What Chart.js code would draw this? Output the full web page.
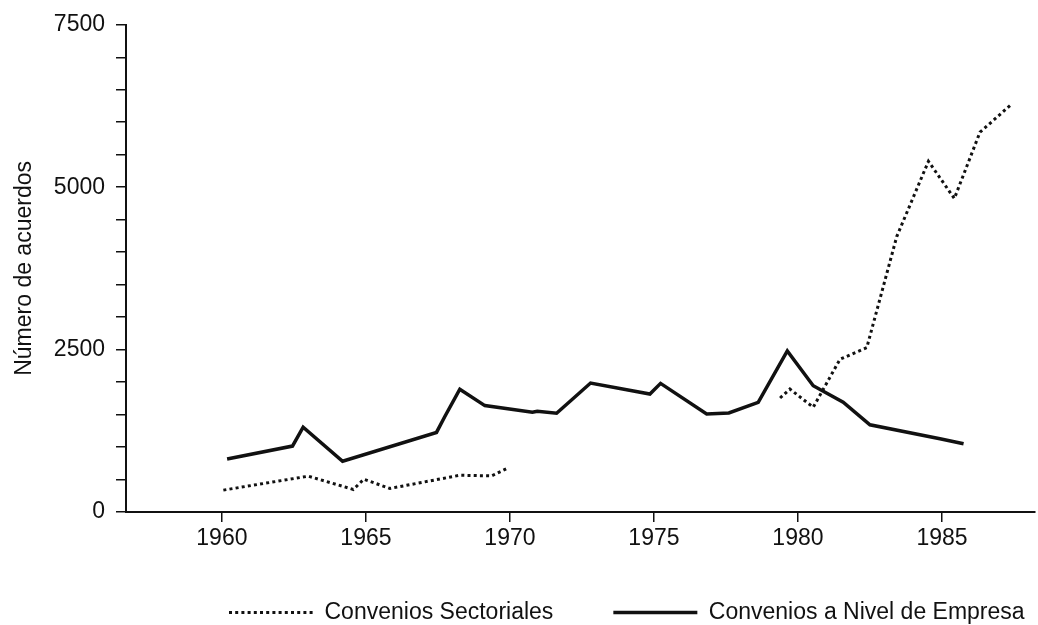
<!DOCTYPE html>
<html>
<head>
<meta charset="utf-8">
<script src="https://cdn.jsdelivr.net/npm/chart.js@4.4.1/dist/chart.umd.min.js"></script>
<style>
    html, body { margin: 0; padding: 0; background: #fff; }
    canvas { display: block; }
</style>
</head>
<body>
<canvas id="chart" width="1038" height="625"></canvas>
<script>
// Convenios Sectoriales (two runs, no data in the 1970s)
const sectYearsA  = [1960.05, 1963.0, 1964.56, 1964.93, 1965.83, 1968.26, 1969.36, 1969.94];
const sectValuesA = [337, 551, 347, 505, 362, 566, 556, 679];
const sectYearsB  = [1979.38, 1979.72, 1980.53, 1981.46, 1982.39, 1983.43, 1984.53, 1985.43, 1986.32, 1987.42];
const sectValuesB = [1755, 1893, 1612, 2352, 2530, 4240, 5399, 4826, 5847, 6280];

// Convenios a Nivel de Empresa
const empYears  = [1960.18, 1962.45, 1962.82, 1964.19, 1967.45, 1967.74, 1968.26, 1969.13, 1970.78, 1970.95,
                   1971.62, 1972.8, 1974.86, 1975.23, 1976.83, 1977.6, 1978.62, 1979.63, 1980.53, 1981.57,
                   1982.5, 1984.93, 1985.75];
const empValues = [816, 1015, 1306, 781, 1225, 1470, 1890, 1638, 1535, 1551,
                   1520, 1985, 1816, 1980, 1510, 1525, 1689, 2480, 1944, 1689,
                   1342, 1128, 1050];

const xTicks  = [1960, 1965, 1970, 1975, 1980, 1985];
const yTicks  = [0, 500, 1000, 1500, 2000, 2500, 3000, 3500, 4000, 4500, 5000, 5500, 6000, 6500, 7000, 7500];
const yLabels = [0, 2500, 5000, 7500];

const zip = (xs, ys) => xs.map((x, i) => ({ x: x, y: ys[i] }));
const sectData = zip(sectYearsA, sectValuesA)
    .concat([{ x: 1975, y: null }])
    .concat(zip(sectYearsB, sectValuesB));
const empData = zip(empYears, empValues);

const ink = "#111";
Chart.defaults.font.family = "'Liberation Sans', Arial, sans-serif";
Chart.defaults.font.size = 23;
Chart.defaults.color = ink;

// put the legend row where the original has it (legend clips to its own box)
const legendShift = {
    id: "legendShift",
    afterLayout(chart) {
        const l = chart.legend;
        const pad = l.options.labels.padding;
        const dx = 229 - (l.left + pad);
        l.left += dx; l.right += dx;
        l.top = 601 - pad;
        l.bottom = 625;
    }
};

new Chart(document.getElementById("chart"), {
    type: "line",
    data: {
        datasets: [
            {
                label: "Convenios Sectoriales",
                data: sectData,
                borderColor: ink,
                borderWidth: 3,
                borderDash: [3, 3.2],
                borderCapStyle: "butt",
                pointRadius: 0,
                tension: 0,
                spanGaps: false,
            },
            {
                label: "Convenios a Nivel de Empresa",
                data: empData,
                borderColor: ink,
                borderWidth: 3.5,
                borderJoinStyle: "miter",
                pointRadius: 0,
                tension: 0,
            }
        ]
    },
    options: {
        responsive: false,
        animation: false,
        layout: { padding: { left: 0, right: 3, top: 22, bottom: 0 } },
        plugins: {
            tooltip: { enabled: false },
            legend: {
                position: "bottom",
                align: "start",
                maxHeight: 40,
                labels: {
                    usePointStyle: true,
                    pointStyle: "line",
                    pointStyleWidth: 84,
                    padding: 60,
                    color: ink,
                    generateLabels: chart =>
                        Chart.defaults.plugins.legend.labels.generateLabels(chart).map(item => {
                            const ds = chart.data.datasets[item.datasetIndex];
                            item.lineDash = ds.borderDash || [];
                            item.lineWidth = ds.borderWidth;
                            item.lineCap = "butt";
                            return item;
                        }),
                }
            }
        },
        scales: {
            x: {
                type: "linear",
                min: 1956.67,
                max: 1988.23,
                afterBuildTicks: s => { s.ticks = xTicks.map(v => ({ value: v })); },
                afterFit: s => { s.height = 625 - 512 - (s.chart.legend ? s.chart.legend.height : 40); },
                ticks: { autoSkip: false, maxRotation: 0, padding: 3, callback: v => String(v) },
                grid: { drawOnChartArea: false, drawTicks: true, tickLength: 10, color: ink, lineWidth: 1.5 },
                border: { display: true, color: ink, width: 2 },
            },
            y: {
                min: 0,
                max: 7500,
                afterBuildTicks: s => { s.ticks = yTicks.map(v => ({ value: v })); },
                afterFit: s => { s.width = 126; },
                ticks: { autoSkip: false, padding: 11, callback: v => yLabels.includes(v) ? String(v) : "" },
                grid: { drawOnChartArea: false, drawTicks: true, tickLength: 10, color: ink, lineWidth: 1.5 },
                border: { display: true, color: ink, width: 2 },
                title: { display: true, text: "Número de acuerdos", padding: { top: 11, bottom: 0 }, color: ink },
            }
        }
    },
    plugins: [legendShift]
});
</script>
</body>
</html>
